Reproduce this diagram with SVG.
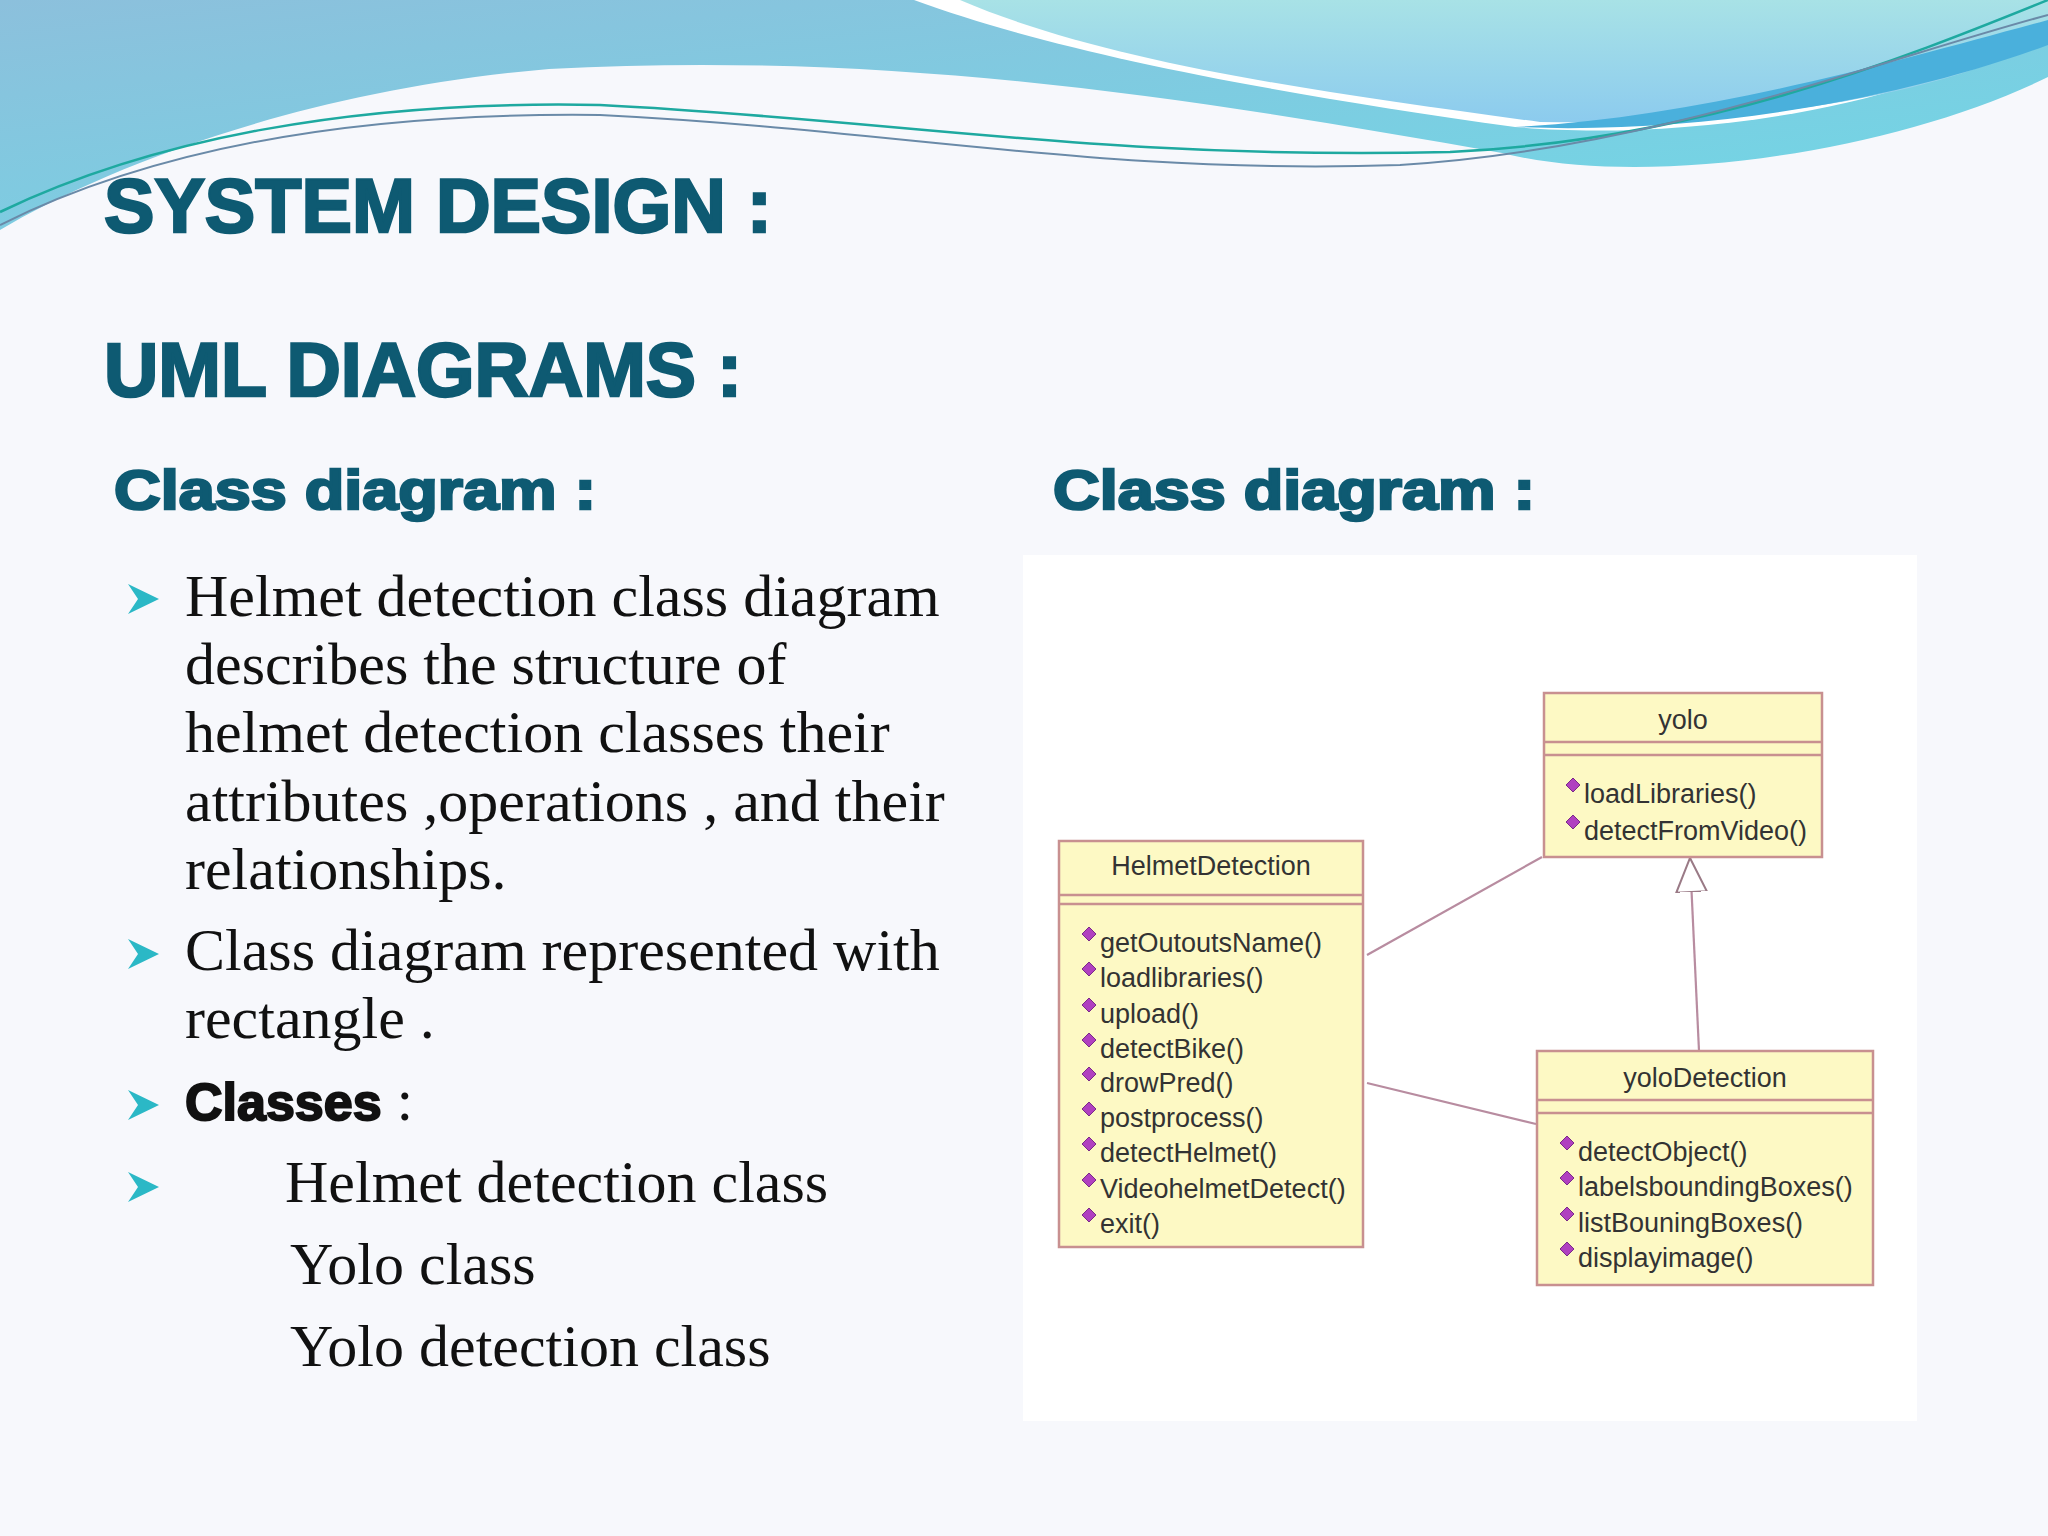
<svg xmlns="http://www.w3.org/2000/svg" width="2048" height="1536" viewBox="0 0 2048 1536">
<defs>
<linearGradient id="gb" x1="0" y1="0" x2="1" y2="1"><stop offset="0" stop-color="#8cc0dc"/><stop offset="1" stop-color="#6fd8e6"/></linearGradient>
<linearGradient id="gl" x1="0" y1="0" x2="0" y2="1"><stop offset="0" stop-color="#a8e2e6"/><stop offset="1" stop-color="#8ccbee"/></linearGradient>
<marker id="tri" viewBox="0 0 20 20" refX="20" refY="10" markerWidth="34" markerHeight="34" markerUnits="userSpaceOnUse" orient="auto"><path d="M0,1 L20,10 L0,19 Z" fill="#ffffff" stroke="#9a7a86" stroke-width="1.2"/></marker>
<g id="dia"><path d="M0,-7 L7,0 L0,7 L-7,0 Z" fill="#b040c0" stroke="#7a2a88" stroke-width="1"/></g>
</defs>
<style>
.t{font-family:"Liberation Sans",Arial,sans-serif;font-weight:bold;fill:#0e5a72;stroke:#0e5a72;stroke-width:2.5}
.b{font-family:"Liberation Serif","Times New Roman",serif;font-size:60px;fill:#111}
.box{fill:#fdf9c4;stroke:#c89090;stroke-width:2.5}
.sep{stroke:#c89090;stroke-width:2.5}
.n{font-family:"Liberation Sans Narrow","Liberation Sans",Arial,sans-serif;font-size:27px;fill:#333}
.c{stroke:#b88ca0;stroke-width:2.2;fill:none}
.ar{fill:#2bb8c6}
</style>
<rect width="2048" height="1536" fill="#f7f8fc"/>
<path d="M0,0 H2048 V77 C1900,150 1650,190 1502,153 C1200,100 900,50 549,69 C300,90 100,170 0,230 Z" fill="url(#gb)"/>
<path d="M914,0 H2048 V23 C1900,120 1650,140 1515,127 C1250,90 1050,50 914,0 Z" fill="#ffffff"/>
<path d="M960,0 H2048 V40 C1900,110 1700,125 1540,122 C1300,90 1100,60 960,0 Z" fill="url(#gl)"/>
<path d="M1515,127 C1700,118 1900,60 2048,20 V45 C1900,100 1700,135 1515,127 Z" fill="#4ab0dc"/>
<path d="M0,212 C150,140 350,100 600,105 C900,120 1100,160 1450,152 C1700,140 1900,60 2048,0" class="c" style="stroke:#1ea9a0;stroke-width:2.5"/>
<path d="M0,225 C150,150 350,112 600,115 C900,130 1100,175 1400,165 C1650,150 1880,60 2048,15" class="c" style="stroke:#6a8aa8;stroke-width:2"/>
<text class="t" x="104" y="232" font-size="76" textLength="668" lengthAdjust="spacingAndGlyphs">SYSTEM DESIGN :</text>
<text class="t" x="104" y="396" font-size="76" textLength="638" lengthAdjust="spacingAndGlyphs">UML DIAGRAMS :</text>
<text class="t" x="114" y="509" font-size="56" textLength="482" lengthAdjust="spacingAndGlyphs">Class diagram :</text>
<text class="t" x="1053" y="509" font-size="56" textLength="482" lengthAdjust="spacingAndGlyphs">Class diagram :</text>
<g id="bullets">
<path class="ar" d="M128,584 L159,599 L128,614 L138,599 Z"/>
<path class="ar" d="M128,939 L159,954 L128,969 L138,954 Z"/>
<path class="ar" d="M128,1090 L159,1105 L128,1120 L138,1105 Z"/>
<path class="ar" d="M128,1172 L159,1187 L128,1202 L138,1187 Z"/>
<text class="b" x="185" y="616">Helmet detection class diagram</text>
<text class="b" x="185" y="684">describes the structure of</text>
<text class="b" x="185" y="752">helmet detection classes their</text>
<text class="b" x="185" y="821">attributes ,operations , and their</text>
<text class="b" x="185" y="889">relationships.</text>
<text class="b" x="185" y="970">Class diagram represented with</text>
<text class="b" x="185" y="1038">rectangle .</text>
<text class="b" x="185" y="1120"><tspan style="font-family:'Liberation Sans',Arial,sans-serif;font-weight:bold;font-size:52px;stroke:#111;stroke-width:2">Classes</tspan> :</text>
<text class="b" x="285" y="1202">Helmet detection class</text>
<text class="b" x="290" y="1284">Yolo class</text>
<text class="b" x="290" y="1366">Yolo detection class</text>
</g>
<rect x="1023" y="555" width="894" height="866" fill="#ffffff"/>
<g id="connectors">
<line class="c" x1="1367" y1="955" x2="1542" y2="857"/>
<line class="c" x1="1367" y1="1083" x2="1536" y2="1124"/>
<line class="c" x1="1699" y1="1051" x2="1690" y2="858" marker-end="url(#tri)"/>
</g>
<g id="HelmetDetection">
<rect class="box" x="1059" y="841" width="304" height="406"/>
<line class="sep" x1="1059" y1="895" x2="1363" y2="895"/>
<line class="sep" x1="1059" y1="904" x2="1363" y2="904"/>
<text class="n" x="1211" y="875" text-anchor="middle">HelmetDetection</text>
<use href="#dia" x="1089" y="934"/><text class="n" x="1100" y="952">getOutoutsName()</text>
<use href="#dia" x="1089" y="969"/><text class="n" x="1100" y="987">loadlibraries()</text>
<use href="#dia" x="1089" y="1005"/><text class="n" x="1100" y="1023">upload()</text>
<use href="#dia" x="1089" y="1040"/><text class="n" x="1100" y="1058">detectBike()</text>
<use href="#dia" x="1089" y="1074"/><text class="n" x="1100" y="1092">drowPred()</text>
<use href="#dia" x="1089" y="1109"/><text class="n" x="1100" y="1127">postprocess()</text>
<use href="#dia" x="1089" y="1144"/><text class="n" x="1100" y="1162">detectHelmet()</text>
<use href="#dia" x="1089" y="1180"/><text class="n" x="1100" y="1198">VideohelmetDetect()</text>
<use href="#dia" x="1089" y="1215"/><text class="n" x="1100" y="1233">exit()</text>
</g>
<g id="yolo">
<rect class="box" x="1544" y="693" width="278" height="164"/>
<line class="sep" x1="1544" y1="742" x2="1822" y2="742"/>
<line class="sep" x1="1544" y1="755" x2="1822" y2="755"/>
<text class="n" x="1683" y="729" text-anchor="middle">yolo</text>
<use href="#dia" x="1573" y="785"/><text class="n" x="1584" y="803">loadLibraries()</text>
<use href="#dia" x="1573" y="822"/><text class="n" x="1584" y="840">detectFromVideo()</text>
</g>
<g id="yoloDetection">
<rect class="box" x="1537" y="1051" width="336" height="234"/>
<line class="sep" x1="1537" y1="1100" x2="1873" y2="1100"/>
<line class="sep" x1="1537" y1="1113" x2="1873" y2="1113"/>
<text class="n" x="1705" y="1087" text-anchor="middle">yoloDetection</text>
<use href="#dia" x="1567" y="1143"/><text class="n" x="1578" y="1161">detectObject()</text>
<use href="#dia" x="1567" y="1178"/><text class="n" x="1578" y="1196">labelsboundingBoxes()</text>
<use href="#dia" x="1567" y="1214"/><text class="n" x="1578" y="1232">listBouningBoxes()</text>
<use href="#dia" x="1567" y="1249"/><text class="n" x="1578" y="1267">displayimage()</text>
</g>
</svg>
